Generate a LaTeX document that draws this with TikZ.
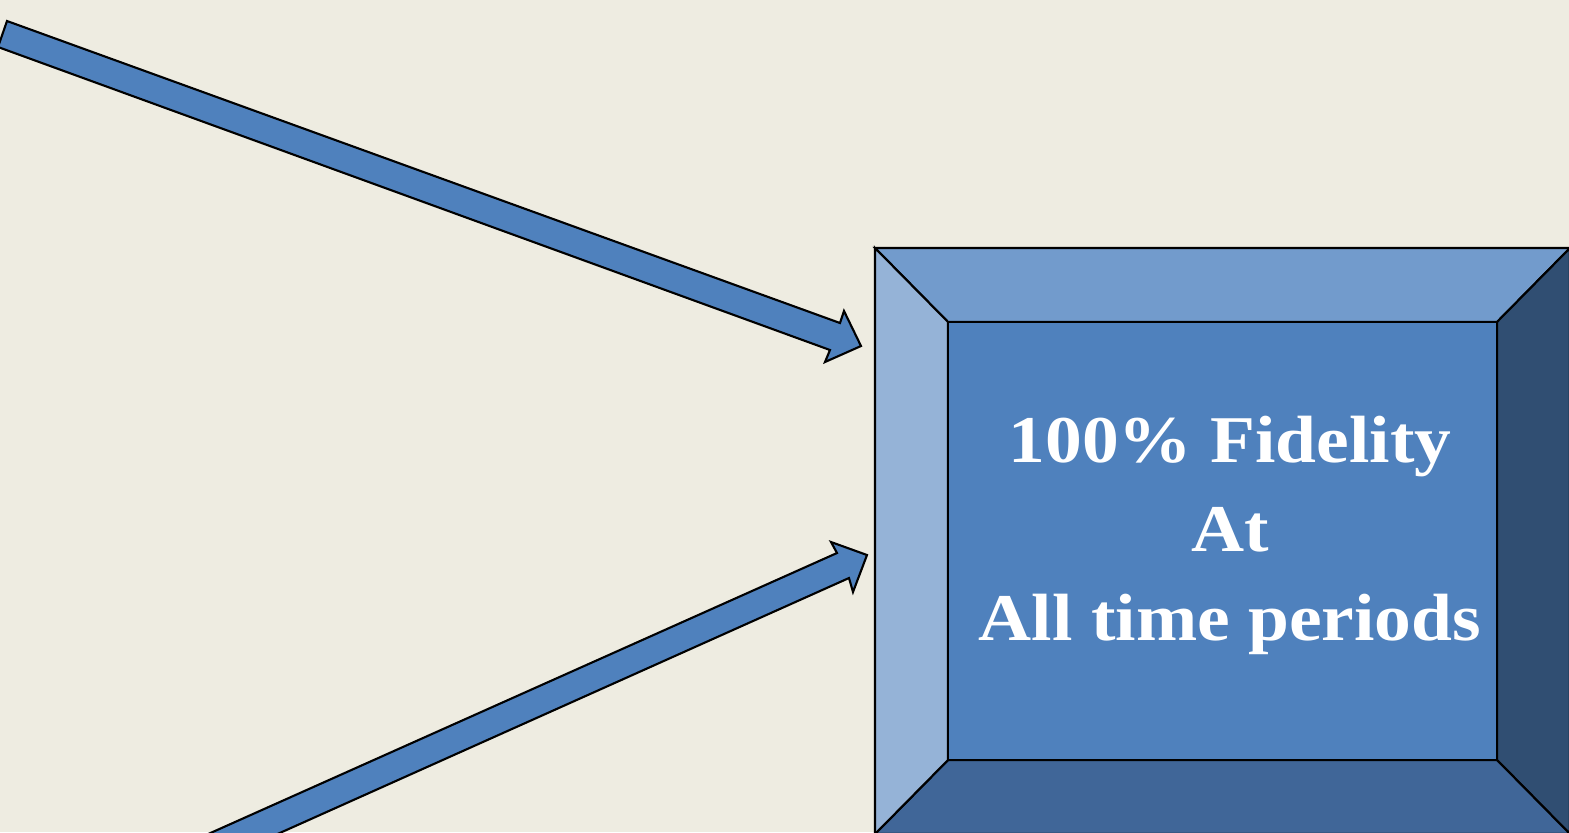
\documentclass[tikz,border=0pt]{standalone}
\usepackage{fontspec}
\setmainfont{Liberation Serif}[FakeStretch=1.1]
\usepackage{xcolor}

\definecolor{slidebg}{RGB}{238,236,225}
\definecolor{accent}{RGB}{79,129,189}
\definecolor{bevtop}{RGB}{114,155,204}
\definecolor{bevleft}{RGB}{149,179,215}
\definecolor{bevright}{RGB}{48,78,114}
\definecolor{bevbottom}{RGB}{64,102,152}

\begin{document}
\begin{tikzpicture}[x=0.01cm, y=-0.01cm,
    blockarrow/.style = {fill=accent, draw=black, line width=0.6pt, line join=miter},
    bevel/.style = {draw=black, line width=0.6pt},
    facebox/.style = {rectangle, fill=accent, draw=black, line width=0.6pt,
      minimum width=5.49cm, minimum height=4.38cm, inner sep=0pt},
    bigtext/.style = {text=white, align=center, font=\fontsize{19}{25.3}\selectfont\bfseries}]
  \useasboundingbox (0,0) rectangle (1569,832);
  \fill[slidebg] (0,0) rectangle (1569,832);
  \clip (0,0) rectangle (1569,832);

  % upper arrow
  \draw[blockarrow] (7,21) -- (840,323) -- (844,311) -- (861,346)
    -- (825,362) -- (830,350) -- (-2,47) -- cycle;
  % lower arrow
  \draw[blockarrow] (150,860) -- (837,553) -- (831,542) -- (867,555)
    -- (853,592) -- (849,578) -- (215,862) -- cycle;

  % bevelled box
  \draw[bevel, fill=bevtop] (875,248) -- (1570,248) -- (1497,322) -- (948,322) -- cycle;
  \draw[bevel, fill=bevright] (1570,248) -- (1570,834) -- (1497,760) -- (1497,322) -- cycle;
  \draw[bevel, fill=bevbottom] (1570,834) -- (875,834) -- (948,760) -- (1497,760) -- cycle;
  \draw[bevel, fill=bevleft] (875,834) -- (875,248) -- (948,322) -- (948,760) -- cycle;
  \node[facebox] (face) at (1222.5,541) {};

  \node[bigtext] (fidelity) at (1230,535) {100\% Fidelity\\At\\All time periods};
\end{tikzpicture}
\end{document}
